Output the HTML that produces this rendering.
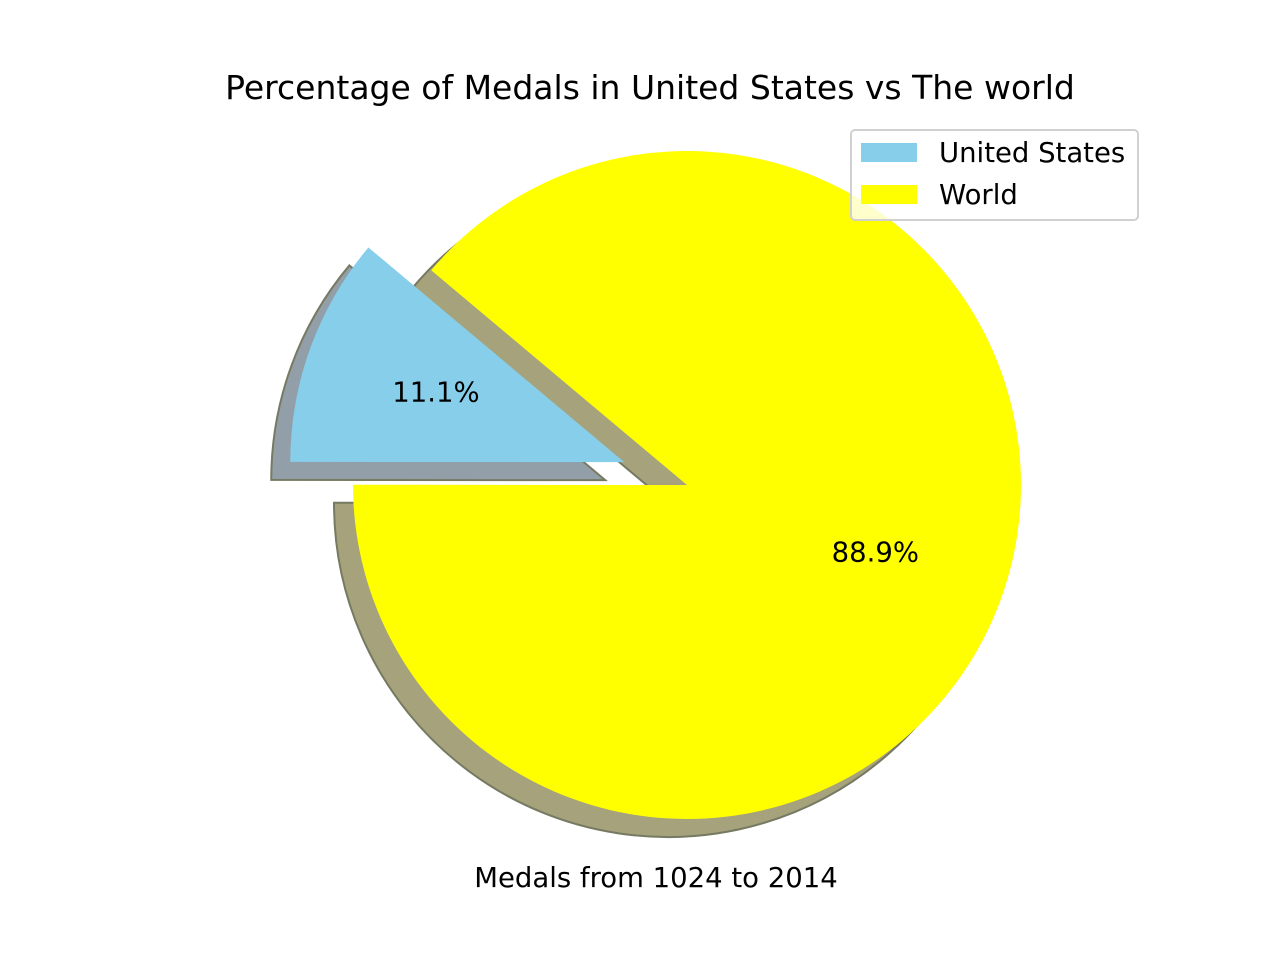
<!DOCTYPE html>
<html><head><meta charset="utf-8"><style>
body{margin:0;background:#fff}
svg{display:block;font-family:"DejaVu Sans","Liberation Sans",sans-serif}
</style></head><body>
<svg id="chart" width="1280" height="960" viewBox="0 0 1280 960">
<rect width="1280" height="960" fill="#fff"/>
<text x="650" y="99" font-size="33" text-anchor="middle">Percentage of Medals in United States vs The world</text>
<g id="shadows"></g><g id="slices"></g><g id="pcts"></g>
<text x="656" y="887" font-size="27.5" text-anchor="middle">Medals from 1024 to 2014</text>
<g>
<rect x="851" y="130" width="287" height="90" rx="4" fill="#fff" fill-opacity="0.8" stroke="#d0d0d0" stroke-width="2"/>
<g><rect x="861" y="143" width="56" height="19" fill="#87ceeb"/><text x="939" y="162" font-size="27.5">United States</text></g>
<g><rect x="861" y="185" width="56" height="19" fill="#ffff00"/><text x="939" y="204" font-size="27.5">World</text></g>
</g>
</svg>
<script>
const labels=["United States","World"];
const values=[11.1,88.9];
const colors=["#87ceeb","#ffff00"];
const shadowColors=["#929fa8","#a5a27c"];
const explode=[0.2,0];
const startAngle=140;
const cx=687,cy=485,R=334,sdx=-19,sdy=18;
const ns="http://www.w3.org/2000/svg";
const total=values.reduce((a,b)=>a+b,0);
function pt(x,y,r,a){const t=a*Math.PI/180;return [x+r*Math.cos(t),y-r*Math.sin(t)];}
function wedge(x,y,a0,a1){const p0=pt(x,y,R,a0),p1=pt(x,y,R,a1);const large=(a1-a0)>180?1:0;
return `M${x},${y}L${p0[0]},${p0[1]}A${R},${R} 0 ${large} 0 ${p1[0]},${p1[1]}Z`;}
let a=startAngle;
values.forEach((v,i)=>{
 const span=v/total*360, mid=a+span/2;
 const [ox,oy]=pt(0,0,explode[i]*R,mid);
 const x=cx+ox,y=cy+oy;
 const sh=document.createElementNS(ns,"path");
 sh.setAttribute("d",wedge(x+sdx,y+sdy,a,a+span));
 sh.setAttribute("fill",shadowColors[i]);sh.setAttribute("stroke","#767a62");sh.setAttribute("stroke-width","2");
 
 
 document.getElementById("shadows").appendChild(sh);
 const p=document.createElementNS(ns,"path");
 p.setAttribute("d",wedge(x,y,a,a+span));p.setAttribute("fill",colors[i]);
 
 
 document.getElementById("slices").appendChild(p);
 const [tx,ty]=pt(x,y,0.6*R,mid);
 const t=document.createElementNS(ns,"text");
 t.setAttribute("x",tx);t.setAttribute("y",ty+8);t.setAttribute("font-size","27.5");t.setAttribute("text-anchor","middle");
 t.textContent=v.toFixed(1)+"%";
 
 
 document.getElementById("pcts").appendChild(t);
 a+=span;
});
</script>
</body></html>
